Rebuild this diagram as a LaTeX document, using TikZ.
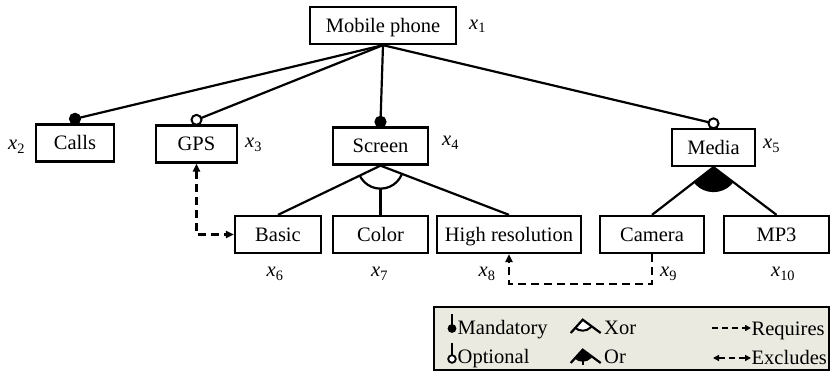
\documentclass[tikz,border=0pt]{standalone}
\usepackage{fontspec}
\setmainfont{Liberation Serif}
\usetikzlibrary{arrows.meta,calc}
\definecolor{legendbg}{RGB}{234,234,224}
\newcommand\xvar[1]{\textit{x}\textsubscript{#1}}
\tikzset{
  feat/.style={draw, line width=2.3pt, minimum height=37pt, inner sep=0pt,
    text height=13.5pt, text depth=0pt, font=\fontsize{20.5}{24}\selectfont},
  lbl/.style={inner sep=0pt, anchor=base west, font=\fontsize{20.5}{24}\selectfont},
  edge/.style={line width=2.2pt},
  mand/.style={fill=black, draw=black, line width=1pt},
  opt/.style={fill=white, draw=black, line width=2pt},
  dep/.style={line width=2.3pt, dash pattern=on 8pt off 5pt},
  tipend/.style={-{Triangle[length=8pt,width=7pt]}},
  tipboth/.style={{Triangle[length=8pt,width=7pt]}-{Triangle[length=8pt,width=7pt]}},
  smalltip/.style={-{Triangle[length=6pt,width=6pt]}},
  smallboth/.style={{Triangle[length=6pt,width=6pt]}-{Triangle[length=6pt,width=6pt]}},
}
\begin{document}
\begin{tikzpicture}[x=1pt,y=-1pt]
\useasboundingbox (0,0) rectangle (831,374);

% features
\node[feat, minimum width=146pt] (phone)  at (383,25.5)  {Mobile phone};
\node[feat, minimum width=78pt]  (calls)  at (75,143)    {Calls};
\node[feat, minimum width=81pt]  (gps)    at (196.5,144) {GPS};
\node[feat, minimum width=95pt]  (screen) at (380.5,146) {Screen};
\node[feat, minimum width=83pt]  (media)  at (713.5,147.5) {Media};
\node[feat, minimum width=86pt]  (basic)  at (278,234.5) {Basic};
\node[feat, minimum width=95pt]  (color)  at (380.5,234.5) {Color};
\node[feat, minimum width=144pt] (hires)  at (509,234.5) {High resolution};
\node[feat, minimum width=104pt] (camera) at (652,234.5) {Camera};
\node[feat, minimum width=105pt] (mp3)    at (776.5,234.5) {MP3};

% variable labels
\node[lbl] (v1)  at (469,29.5)  {\xvar{1}};
\node[lbl] (v2)  at (8,150)     {\xvar{2}};
\node[lbl] (v3)  at (245,148)   {\xvar{3}};
\node[lbl] (v4)  at (442,146)   {\xvar{4}};
\node[lbl] (v5)  at (763,149)   {\xvar{5}};
\node[lbl] (v6)  at (266.5,277) {\xvar{6}};
\node[lbl] (v7)  at (371,277)   {\xvar{7}};
\node[lbl] (v8)  at (478.5,277) {\xvar{8}};
\node[lbl] (v9)  at (660,277)   {\xvar{9}};
\node[lbl] (v10) at (771,277)   {\xvar{10}};

% mandatory / optional children of the root
\foreach \c/\s/\r in {calls/mand/5.6, gps/opt/5, screen/mand/5.6, media/opt/5} {
  \coordinate (\c-dot) at ($(\c.north)+(0,-4.5)$);
  \draw[edge] (phone.south) -- (\c-dot);
  \draw[\s] (\c-dot) circle (\r pt);
}

% xor group under Screen
\draw[edge] (screen.south) -- (color.north);
\begin{scope}
  \clip (screen.south) -- (basic.north) -- (hires.north) -- cycle;
  \draw[edge, fill=white] (screen.south) circle (23pt);
\end{scope}
\draw[edge] (basic.north) -- (screen.south) -- (hires.north);

% or group under Media
\begin{scope}
  \clip (media.south) -- (camera.north) -- (mp3.north) -- cycle;
  \fill (media.south) circle (25pt);
\end{scope}
\draw[edge] (camera.north) -- (media.south) -- (mp3.north);

% cross-tree constraints
\draw[dep, tipboth] (gps.south) |- (basic.west);
\draw[dep, tipend] (camera.south) -- ++(0,30) -| (hires.south);

% legend
\node[draw, line width=2.3pt, fill=legendbg, minimum width=395pt,
      minimum height=63pt, inner sep=0pt] (legend) at (631.5,338.5) {};

\draw[line width=2pt] (452,314.5) -- (452,328);
\fill (452,328.5) circle (4.4pt);
\node[lbl] (lmand) at (457.5,334.7) {Mandatory};

\draw[line width=2pt] (452,343.5) -- (452,355);
\draw[opt, line width=1.8pt] (452,359) circle (3.8pt);
\node[lbl] (lopt) at (457.5,363.5) {Optional};

\begin{scope}
  \clip (582.7,319.7) -- (569.7,333.5) -- (601.7,333.5) -- cycle;
  \draw[line width=2pt, fill=white] (582.7,319.7) circle (11pt);
\end{scope}
\draw[line width=2.2pt] (570.7,333) -- (582.7,319.7) -- (600.7,333);
\node[lbl] (lxor) at (604,335) {Xor};

\draw[line width=2pt] (582.7,355) -- (582.7,365);
\begin{scope}
  \clip (582.7,349.7) -- (569.7,363.5) -- (601.7,363.5) -- cycle;
  \fill (582.7,349.7) circle (12pt);
\end{scope}
\draw[line width=2.2pt] (570.7,363) -- (582.7,349.7) -- (600.7,363);
\node[lbl] (lor) at (604,364) {Or};

\coordinate (rq1) at (712,328);
\coordinate (rq2) at (751,328);
\draw[line width=2pt, dash pattern=on 6pt off 4pt, smalltip] (rq1) -- (rq2);
\node[lbl] (lreq) at (751.5,336) {Requires};

\coordinate (ex1) at (713,358);
\coordinate (ex2) at (751,358);
\draw[line width=2pt, dash pattern=on 6pt off 4pt, smallboth] (ex1) -- (ex2);
\node[lbl] (lexc) at (751.5,365) {Excludes};
\end{tikzpicture}
\end{document}
